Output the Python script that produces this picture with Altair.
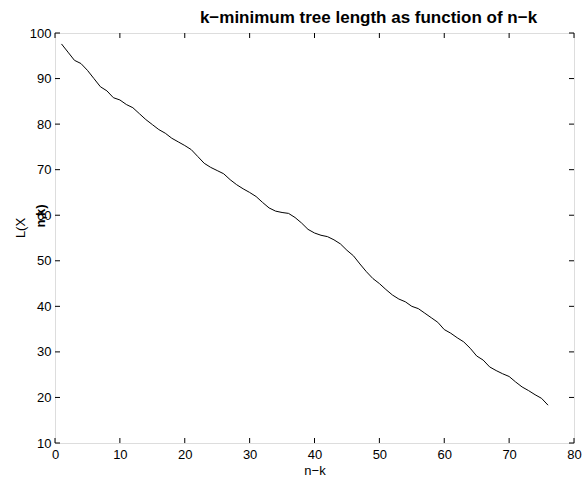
import altair as alt
import pandas as pd

# ---- data ----
n_minus_k = list(range(1, 77))
tree_length = [
    97.6, 95.8, 94.0, 93.3, 91.8, 90.0, 88.2, 87.3, 85.8, 85.3,
    84.3, 83.6, 82.3, 81.0, 79.9, 78.8, 78.0, 76.9, 76.1, 75.3,
    74.4, 72.9, 71.4, 70.5, 69.8, 69.1, 67.8, 66.7, 65.8, 65.0,
    64.1, 62.8, 61.6, 60.9, 60.6, 60.4, 59.5, 58.3, 56.9, 56.1,
    55.6, 55.3, 54.6, 53.7, 52.3, 51.1, 49.3, 47.6, 46.1, 45.0,
    43.7, 42.5, 41.6, 41.0, 40.0, 39.5, 38.5, 37.5, 36.5, 34.9,
    34.1, 33.1, 32.2, 30.8, 29.1, 28.2, 26.7, 25.9, 25.2, 24.6,
    23.4, 22.3, 21.5, 20.6, 19.8, 18.3,
]
x_ticks = [0, 10, 20, 30, 40, 50, 60, 70, 80]
y_ticks = [10, 20, 30, 40, 50, 60, 70, 80, 90, 100]
title_text = "k\u2212minimum tree length as function of n\u2212k"
x_title = "n\u2212k"
y_title_main = "L(X"
y_title_sub = "n,k)"

W, H = 519, 410
FONT = "Liberation Sans"

df = pd.DataFrame({"nk": n_minus_k, "L": tree_length})
xscale = alt.Scale(domain=[0, 80], nice=False, zero=False)
yscale = alt.Scale(domain=[10, 100], nice=False, zero=False)

line = alt.Chart(df).mark_line(color="black", strokeWidth=1).encode(
    x=alt.X("nk:Q", scale=xscale,
            axis=alt.Axis(values=x_ticks, title=x_title, ticks=False, domain=False,
                          grid=False, labelFont=FONT, labelFontSize=13,
                          labelColor="black", labelPadding=5, labelFlush=False,
                          labelOverlap=False,
                          titleFont=FONT, titleFontSize=13, titleFontWeight="normal",
                          titleColor="black", titlePadding=3)),
    y=alt.Y("L:Q", scale=yscale,
            axis=alt.Axis(values=y_ticks, title=None, ticks=False, domain=False,
                          grid=False, labelFont=FONT, labelFontSize=13,
                          labelColor="black", labelPadding=4, labelFlush=False,
                          labelOverlap=False)),
)

xt = pd.DataFrame({"x": x_ticks})
yt = pd.DataFrame({"y": y_ticks})
tick_style = dict(color="black", thickness=1, size=5, opacity=1)
bottom_ticks = alt.Chart(xt).mark_tick(orient="vertical", **tick_style).encode(
    x=alt.X("x:Q", scale=xscale), y=alt.value(H - 2.5))
top_ticks = alt.Chart(xt).mark_tick(orient="vertical", **tick_style).encode(
    x=alt.X("x:Q", scale=xscale), y=alt.value(2.5))
left_ticks = alt.Chart(yt).mark_tick(orient="horizontal", **tick_style).encode(
    y=alt.Y("y:Q", scale=yscale), x=alt.value(2.5))
right_ticks = alt.Chart(yt).mark_tick(orient="horizontal", **tick_style).encode(
    y=alt.Y("y:Q", scale=yscale), x=alt.value(W - 2.5))

title_mark = alt.Chart(pd.DataFrame({"t": [title_text]})).mark_text(
    font=FONT, fontSize=17, fontWeight="bold", color="black",
    align="center", baseline="alphabetic"
).encode(text="t:N", x=alt.value(313.5), y=alt.value(-10.5))

ylab_main = alt.Chart(pd.DataFrame({"t": [y_title_main]})).mark_text(
    angle=270, font=FONT, fontSize=13, color="black", align="center", baseline="middle"
).encode(text="t:N", x=alt.value(-34), y=alt.value(195))
ylab_sub = alt.Chart(pd.DataFrame({"t": [y_title_sub]})).mark_text(
    angle=270, font=FONT, fontSize=13, fontWeight="bold", color="black",
    align="center", baseline="middle"
).encode(text="t:N", x=alt.value(-14), y=alt.value(183))

chart = alt.layer(
    line, bottom_ticks, top_ticks, left_ticks, right_ticks,
    title_mark, ylab_main, ylab_sub
).properties(
    width=W, height=H,
    padding={"left": 55, "top": 33, "right": 8, "bottom": 40},
    autosize="none",
).configure_view(stroke="black", strokeWidth=1).configure(background="white")

chart.save("out.html", embed_options={"renderer": "svg", "actions": False})
